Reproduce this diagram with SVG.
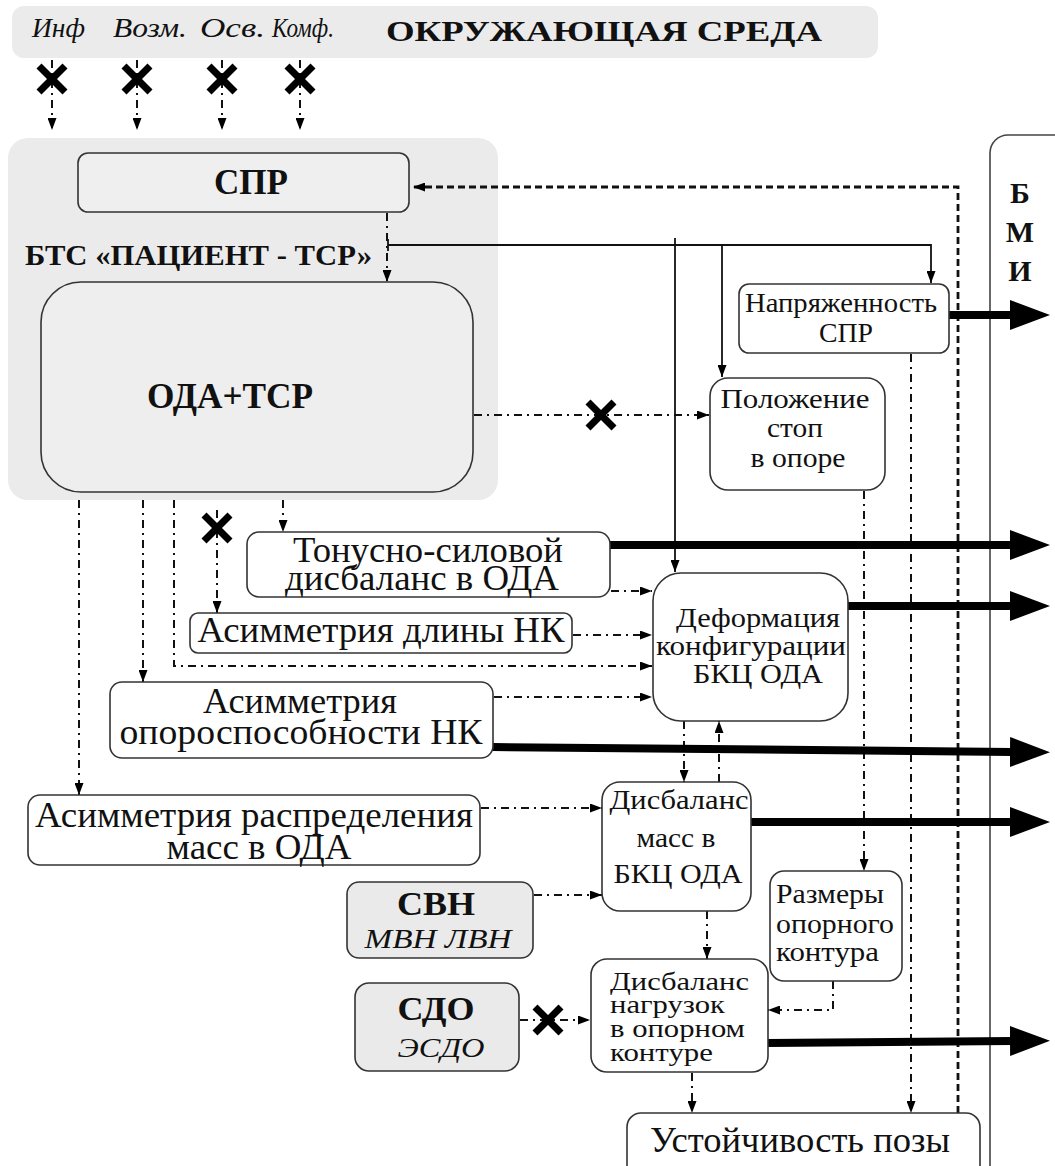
<svg xmlns="http://www.w3.org/2000/svg" width="1055" height="1166" viewBox="0 0 1055 1166">
<defs>
<marker id="ah" viewBox="0 0 12 9" refX="12" refY="4.5" markerWidth="12" markerHeight="9" markerUnits="userSpaceOnUse" orient="auto"><path d="M0,0 L12,4.5 L0,9 z" fill="#000" stroke="none"/></marker>
<marker id="big" viewBox="0 0 40 30" refX="2" refY="15" markerWidth="40" markerHeight="30" markerUnits="userSpaceOnUse" orient="auto"><path d="M0,0 L40,15 L0,30 z" fill="#000" stroke="none"/></marker>
<g id="xm" stroke="#000" stroke-width="7" stroke-dasharray="none"><line x1="-13" y1="-13" x2="13" y2="13"/><line x1="-13" y1="13" x2="13" y2="-13"/></g>
</defs>
<rect width="1055" height="1166" fill="#fff"/>

<g id="env" fill="#111">
<rect x="12" y="6" width="866" height="52" rx="12" fill="#ebebeb"/>
<text x="32" y="37" font-family="Liberation Serif" font-style="italic" font-size="28" textLength="53" lengthAdjust="spacingAndGlyphs">Инф</text>
<text x="113" y="37" font-family="Liberation Serif" font-style="italic" font-size="28" textLength="74" lengthAdjust="spacingAndGlyphs">Возм.</text>
<text x="200" y="37" font-family="Liberation Serif" font-style="italic" font-size="28" textLength="65" lengthAdjust="spacingAndGlyphs">Осв.</text>
<text x="272" y="37" font-family="Liberation Serif" font-style="italic" font-size="28" textLength="62" lengthAdjust="spacingAndGlyphs">Комф.</text>
<text x="386" y="41" font-family="Liberation Serif" font-weight="bold" font-size="30" textLength="436" lengthAdjust="spacingAndGlyphs">ОКРУЖАЮЩАЯ СРЕДА</text>
</g>

<g id="bts" fill="#111">
<rect x="8" y="138" width="490" height="362" rx="20" fill="#ebebeb"/>
<text x="25" y="265" font-family="Liberation Serif" font-weight="bold" font-size="29" textLength="347" lengthAdjust="spacingAndGlyphs">БТС «ПАЦИЕНТ - ТСР»</text>
</g>

<g id="bmi" fill="#111">
<rect x="990" y="135" width="120" height="1100" rx="18" fill="#fff" stroke="#444" stroke-width="1.6"/>
<text x="1020" y="203" font-family="Liberation Serif" font-weight="bold" font-size="30" text-anchor="middle">Б</text>
<text x="1020" y="242" font-family="Liberation Serif" font-weight="bold" font-size="30" text-anchor="middle">М</text>
<text x="1020" y="281" font-family="Liberation Serif" font-weight="bold" font-size="30" text-anchor="middle">И</text>
</g>

<g id="connectors" fill="none" stroke="#111">
<g stroke-width="2" stroke-dasharray="8 5 2 5" marker-end="url(#ah)">
<line x1="52" y1="60" x2="52" y2="130"/>
<line x1="137" y1="60" x2="137" y2="130"/>
<line x1="222" y1="60" x2="222" y2="130"/>
<line x1="300" y1="60" x2="300" y2="130"/>
<line x1="387" y1="213" x2="387" y2="282"/>
<line x1="474" y1="415" x2="709" y2="415"/>
<line x1="911" y1="354" x2="911" y2="1113"/>
<line x1="864" y1="491" x2="864" y2="871"/>
<line x1="79" y1="500" x2="79" y2="795"/>
<line x1="143" y1="500" x2="143" y2="682"/>
<polyline points="174,500 174,666 652,666"/>
<line x1="217" y1="510" x2="217" y2="613"/>
<line x1="283" y1="500" x2="283" y2="532"/>
<line x1="611" y1="591" x2="652" y2="591"/>
<line x1="573" y1="635" x2="652" y2="635"/>
<line x1="494" y1="697" x2="652" y2="697"/>
<line x1="684" y1="721" x2="684" y2="782"/>
<line x1="719" y1="782" x2="719" y2="721"/>
<line x1="481" y1="808" x2="602" y2="808"/>
<line x1="534" y1="895" x2="602" y2="895"/>
<line x1="520" y1="1020" x2="590" y2="1020"/>
<line x1="707" y1="911" x2="707" y2="959"/>
<line x1="692" y1="1073" x2="692" y2="1113"/>
<polyline points="833,981 833,1010 768,1010"/>
</g>
<g stroke-width="1.8">
<line x1="388" y1="239" x2="388" y2="251"/>
<polyline points="388,245 931,245 931,283" marker-end="url(#ah)"/>
<line x1="722" y1="245" x2="722" y2="377" marker-end="url(#ah)"/>
<line x1="675" y1="238" x2="675" y2="572" marker-end="url(#ah)"/>
</g>
<polyline points="958,1113 958,187 413,187" stroke-width="2.8" stroke-dasharray="7 4" marker-end="url(#ah)"/>
<g stroke="#000" stroke-width="8" marker-end="url(#big)">
<line x1="949" y1="315" x2="1012" y2="315"/>
<line x1="610" y1="545" x2="1012" y2="545"/>
<line x1="848" y1="606" x2="1012" y2="606"/>
<line x1="493" y1="747" x2="1012" y2="752"/>
<line x1="751" y1="822" x2="1012" y2="822"/>
<line x1="768" y1="1043" x2="1012" y2="1041"/>
</g>
<use href="#xm" x="52" y="79"/>
<use href="#xm" x="137" y="79"/>
<use href="#xm" x="222" y="79"/>
<use href="#xm" x="300" y="79"/>
<use href="#xm" x="601" y="415"/>
<use href="#xm" x="217" y="528"/>
<use href="#xm" x="548" y="1020"/>
</g>

<g id="spr" fill="#111">
<rect x="78" y="153" width="331" height="59" rx="10" fill="#efefef" stroke="#333" stroke-width="1.6"/>
<text x="251" y="194" font-family="Liberation Serif" font-weight="bold" font-size="35" text-anchor="middle" textLength="74" lengthAdjust="spacingAndGlyphs">СПР</text>
</g>

<g id="oda" fill="#111">
<rect x="41" y="282" width="432" height="210" rx="40" fill="#eeeeee" stroke="#333" stroke-width="1.6"/>
<text x="230" y="408" font-family="Liberation Serif" font-weight="bold" font-size="35" text-anchor="middle" textLength="166" lengthAdjust="spacingAndGlyphs">ОДА+ТСР</text>
</g>

<g id="napr" fill="#111">
<rect x="739" y="284" width="210" height="69" rx="10" fill="#fff" stroke="#333" stroke-width="1.6"/>
<text x="841" y="312" font-family="Liberation Serif" font-size="28" text-anchor="middle" textLength="192" lengthAdjust="spacingAndGlyphs">Напряженность</text>
<text x="846" y="342" font-family="Liberation Serif" font-size="28" text-anchor="middle" textLength="54" lengthAdjust="spacingAndGlyphs">СПР</text>
</g>

<g id="polozh" fill="#111">
<rect x="710" y="378" width="175" height="112" rx="18" fill="#fff" stroke="#333" stroke-width="1.6"/>
<text x="795" y="408" font-family="Liberation Serif" font-size="28" text-anchor="middle" textLength="149" lengthAdjust="spacingAndGlyphs">Положение</text>
<text x="795" y="437" font-family="Liberation Serif" font-size="28" text-anchor="middle" textLength="56" lengthAdjust="spacingAndGlyphs">стоп</text>
<text x="798" y="467" font-family="Liberation Serif" font-size="28" text-anchor="middle" textLength="95" lengthAdjust="spacingAndGlyphs">в опоре</text>
</g>

<g id="tonus" fill="#111">
<rect x="247" y="532" width="363" height="65" rx="12" fill="#fff" stroke="#333" stroke-width="1.6"/>
<text x="428" y="562" font-family="Liberation Serif" font-size="36" text-anchor="middle" textLength="270" lengthAdjust="spacingAndGlyphs">Тонусно-силовой</text>
<text x="422" y="590" font-family="Liberation Serif" font-size="36" text-anchor="middle" textLength="274" lengthAdjust="spacingAndGlyphs">дисбаланс в ОДА</text>
</g>

<g id="dlina" fill="#111">
<rect x="190" y="613" width="382" height="40" rx="8" fill="#fff" stroke="#333" stroke-width="1.6"/>
<text x="381" y="642" font-family="Liberation Serif" font-size="36" text-anchor="middle" textLength="367" lengthAdjust="spacingAndGlyphs">Асимметрия длины НК</text>
</g>

<g id="deform" fill="#111">
<rect x="653" y="573" width="195" height="148" rx="28" fill="#fff" stroke="#333" stroke-width="1.6"/>
<text x="758" y="627" font-family="Liberation Serif" font-size="28" text-anchor="middle" textLength="164" lengthAdjust="spacingAndGlyphs">Деформация</text>
<text x="751" y="655" font-family="Liberation Serif" font-size="28" text-anchor="middle" textLength="190" lengthAdjust="spacingAndGlyphs">конфигурации</text>
<text x="758" y="683" font-family="Liberation Serif" font-size="28" text-anchor="middle" textLength="130" lengthAdjust="spacingAndGlyphs">БКЦ ОДА</text>
</g>

<g id="opor" fill="#111">
<rect x="110" y="682" width="383" height="76" rx="12" fill="#fff" stroke="#333" stroke-width="1.6"/>
<text x="300" y="713" font-family="Liberation Serif" font-size="36" text-anchor="middle" textLength="194" lengthAdjust="spacingAndGlyphs">Асимметрия</text>
<text x="301" y="744" font-family="Liberation Serif" font-size="36" text-anchor="middle" textLength="363" lengthAdjust="spacingAndGlyphs">опороспособности  НК</text>
</g>

<g id="raspr" fill="#111">
<rect x="28" y="795" width="452" height="70" rx="12" fill="#fff" stroke="#333" stroke-width="1.6"/>
<text x="254" y="827" font-family="Liberation Serif" font-size="36" text-anchor="middle" textLength="438" lengthAdjust="spacingAndGlyphs">Асимметрия распределения</text>
<text x="259" y="859" font-family="Liberation Serif" font-size="36" text-anchor="middle" textLength="185" lengthAdjust="spacingAndGlyphs">масс в ОДА</text>
</g>

<g id="dism" fill="#111">
<rect x="602" y="782" width="149" height="129" rx="18" fill="#fff" stroke="#333" stroke-width="1.6"/>
<text x="679" y="809" font-family="Liberation Serif" font-size="28" text-anchor="middle" textLength="139" lengthAdjust="spacingAndGlyphs">Дисбаланс</text>
<text x="676" y="847" font-family="Liberation Serif" font-size="28" text-anchor="middle" textLength="79" lengthAdjust="spacingAndGlyphs">масс в</text>
<text x="678" y="883" font-family="Liberation Serif" font-size="28" text-anchor="middle" textLength="129" lengthAdjust="spacingAndGlyphs">БКЦ ОДА</text>
</g>

<g id="svn" fill="#111">
<rect x="347" y="882" width="186" height="76" rx="12" fill="#eaeaea" stroke="#333" stroke-width="1.6"/>
<text x="436" y="915" font-family="Liberation Serif" font-weight="bold" font-size="33" text-anchor="middle" textLength="78" lengthAdjust="spacingAndGlyphs">СВН</text>
<text x="438" y="948" font-family="Liberation Serif" font-style="italic" font-size="28" text-anchor="middle" textLength="147" lengthAdjust="spacingAndGlyphs">МВН ЛВН</text>
</g>

<g id="sdo" fill="#111">
<rect x="355" y="983" width="164" height="88" rx="14" fill="#eaeaea" stroke="#333" stroke-width="1.6"/>
<text x="436" y="1020" font-family="Liberation Serif" font-weight="bold" font-size="33" text-anchor="middle" textLength="77" lengthAdjust="spacingAndGlyphs">СДО</text>
<text x="441" y="1057" font-family="Liberation Serif" font-style="italic" font-size="28" text-anchor="middle" textLength="87" lengthAdjust="spacingAndGlyphs">ЭСДО</text>
</g>

<g id="razm" fill="#111">
<rect x="770" y="871" width="132" height="110" rx="14" fill="#fff" stroke="#333" stroke-width="1.6"/>
<text x="776" y="903" font-family="Liberation Serif" font-size="27" textLength="108" lengthAdjust="spacingAndGlyphs">Размеры</text>
<text x="776" y="933" font-family="Liberation Serif" font-size="27" textLength="118" lengthAdjust="spacingAndGlyphs">опорного</text>
<text x="776" y="961" font-family="Liberation Serif" font-size="27" textLength="103" lengthAdjust="spacingAndGlyphs">контура</text>
</g>

<g id="nagr" fill="#111">
<rect x="591" y="959" width="177" height="113" rx="16" fill="#fff" stroke="#333" stroke-width="1.6"/>
<text x="610" y="990" font-family="Liberation Serif" font-size="26" textLength="139" lengthAdjust="spacingAndGlyphs">Дисбаланс</text>
<text x="610" y="1013" font-family="Liberation Serif" font-size="26" textLength="115" lengthAdjust="spacingAndGlyphs">нагрузок</text>
<text x="610" y="1037" font-family="Liberation Serif" font-size="26" textLength="135" lengthAdjust="spacingAndGlyphs">в опорном</text>
<text x="610" y="1061" font-family="Liberation Serif" font-size="26" textLength="103" lengthAdjust="spacingAndGlyphs">контуре</text>
</g>

<g id="ustoich" fill="#111">
<rect x="627" y="1113" width="353" height="80" rx="14" fill="#fff" stroke="#333" stroke-width="1.6"/>
<text x="800" y="1152" font-family="Liberation Serif" font-size="36" text-anchor="middle" textLength="300" lengthAdjust="spacingAndGlyphs">Устойчивость позы</text>
</g>
</svg>
